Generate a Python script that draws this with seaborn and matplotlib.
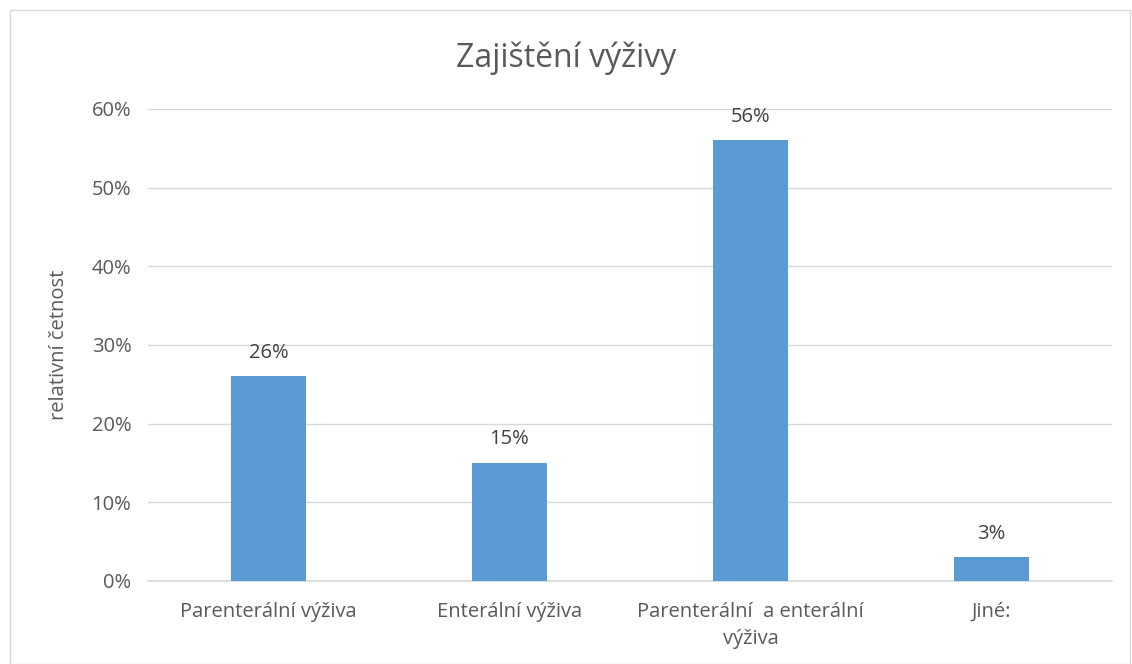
import matplotlib
matplotlib.use("Agg")
import matplotlib.pyplot as plt
import seaborn as sns
import pandas as pd
from matplotlib.patches import Rectangle

categories = ["Parenterální výživa", "Enterální výživa", "Parenterální  a enterální\nvýživa", "Jiné:"]
values = [0.26, 0.15, 0.56, 0.03]
yticks = [0, 0.1, 0.2, 0.3, 0.4, 0.5, 0.6]
ytick_labels = ["0%", "10%", "20%", "30%", "40%", "50%", "60%"]
title = "Zajištění výživy"
ylabel = "relativní četnost"

sns.set_theme(style="white")
plt.rcParams['font.family'] = ['Open Sans', 'DejaVu Sans']

txt = "#595959"
fs = 14.5
df = pd.DataFrame({"cat": categories, "val": values})

fig = plt.figure(figsize=(11.32, 6.64), dpi=100)
ax = fig.add_axes([148/1132, 1-581/664, (1112-148)/1132, (581-109)/664])
sns.barplot(data=df, x="cat", y="val", color="#5B9BD5", width=0.315, ax=ax,
            saturation=1, zorder=3, linewidth=0, edgecolor="none")

ax.set_ylim(0, 0.6)
ax.set_yticks(yticks)
ax.set_yticklabels(ytick_labels, color=txt, fontsize=fs)
ax.set_xticklabels(categories, color=txt, fontsize=fs, linespacing=1.45)
ax.set_xlabel("")
ax.set_ylabel(ylabel, color=txt, fontsize=fs, labelpad=16)
ax.yaxis.grid(True, color="#D9D9D9", linewidth=1, zorder=0)
ax.set_axisbelow(True)
for s in ["top", "right", "left"]:
    ax.spines[s].set_visible(False)
ax.spines["bottom"].set_color("#D9D9D9")
ax.tick_params(axis="x", length=0, pad=15)
ax.tick_params(axis="y", length=0, pad=12)

for p, v in zip(ax.patches, values):
    ax.annotate(f"{round(v*100)}%", (p.get_x() + p.get_width()/2, v),
                xytext=(0, 10), textcoords="offset points", ha="center", va="bottom",
                color="#404040", fontsize=fs)

fig.text(0.5, 1-58/664, title, ha="center", va="center", fontsize=23, color=txt)
fig.patches.append(Rectangle((10/1132, 0), 1-10/1132-2/1132, 1-10/664, transform=fig.transFigure,
                             fill=False, edgecolor="#D9D9D9", linewidth=1))
fig.savefig("out.png", dpi=100)
